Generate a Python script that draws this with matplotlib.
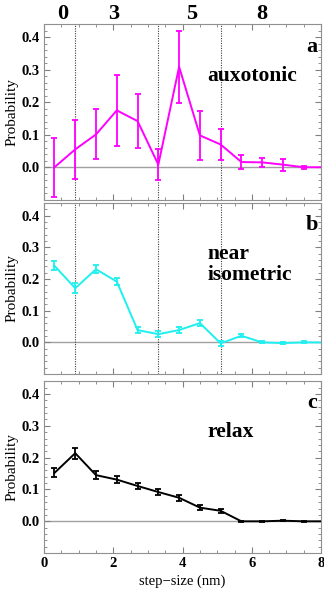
import matplotlib
matplotlib.use('Agg')
import matplotlib.pyplot as plt
from matplotlib.ticker import MultipleLocator

plt.rcParams['font.family'] = ['Liberation Serif', 'DejaVu Serif']
plt.rcParams['font.weight'] = 'bold'

steps = [0.3, 0.9, 1.5, 2.1, 2.7, 3.3, 3.9, 4.5, 5.1, 5.7, 6.3, 6.9, 7.5, 8.1]

auxo = [0.0, 0.055, 0.101, 0.175, 0.142, 0.008, 0.309, 0.098, 0.070, 0.016, 0.015, 0.008, 0.0, 0.0]
auxo_err = [0.09, 0.09, 0.077, 0.11, 0.084, 0.048, 0.11, 0.076, 0.048, 0.022, 0.013, 0.018, 0.004, 0.0]

iso = [0.242, 0.171, 0.231, 0.192, 0.039, 0.026, 0.039, 0.061, -0.003, 0.021, 0.0, -0.002, 0.0, 0.0]
iso_err = [0.015, 0.015, 0.012, 0.012, 0.01, 0.01, 0.01, 0.01, 0.008, 0.005, 0.003, 0.003, 0.003, 0.0]

relax = [0.152, 0.214, 0.145, 0.131, 0.111, 0.092, 0.074, 0.043, 0.033, 0.0, 0.0, 0.002, 0.0, 0.0]
relax_err = [0.014, 0.017, 0.012, 0.012, 0.01, 0.009, 0.009, 0.007, 0.007, 0.002, 0.002, 0.002, 0.002, 0.0]

boundaries = [0.9, 3.3, 5.1]
top_labels = ['0', '3', '5', '8']
top_pos = [0.55, 2.0, 4.25, 6.3]

panels = [
    (auxo, auxo_err, '#ff00ff', 'a', 'auxotonic', [0.662, 0.959]),
    (iso, iso_err, '#1ef0f0', 'b', 'near\nisometric', [0.367, 0.6565]),
    (relax, relax_err, 'black', 'c', 'relax', [0.064, 0.355]),
]

fig = plt.figure(figsize=(3.24, 5.91), dpi=100)
axes = []
for i, (vals, errs, col, letter, name, (b, t)) in enumerate(panels):
    ax = fig.add_axes([0.136, b, 0.855, t - b])
    ax.axhline(0, color='#a0a0a0', lw=1.0, zorder=1)
    ax.errorbar(steps, vals, yerr=errs, color=col, lw=1.4, elinewidth=1.3,
                capsize=2, capthick=1.3, zorder=3, clip_on=True)
    ax.set_xlim(0, 8)
    ax.set_ylim(-0.1, 0.44)
    ax.set_yticks([0.0, 0.1, 0.2, 0.3, 0.4])
    ax.set_yticklabels(['0.0', '0.1', '0.2', '0.3', '0.4'])
    ax.xaxis.set_major_locator(MultipleLocator(2))
    ax.xaxis.set_minor_locator(MultipleLocator(0.5))
    ax.yaxis.set_minor_locator(MultipleLocator(0.02))
    ax.tick_params(direction='in', which='both', top=True, right=True,
                   labelsize=10.5, color='#808080', pad=3)
    ax.tick_params(which='major', length=4)
    ax.tick_params(which='minor', length=2)
    for s in ax.spines.values():
        s.set_color('#909090')
        s.set_linewidth(0.8)
    ax.set_ylabel('Probability', fontsize=11, labelpad=2)
    ax.text(7.9, 0.37, letter, ha='right', va='center', fontsize=16)
    if i == 1:
        ax.text(4.72, 0.245, name, ha='left', va='center', fontsize=15.5,
                linespacing=1.05)
    else:
        ax.text(4.72, 0.28, name, ha='left', va='center', fontsize=15.5)
    if i < 2:
        for xb in boundaries:
            ax.axvline(xb, color='#404040', lw=0.8, ls=(0, (1, 1.2)), zorder=2)
        ax.tick_params(labelbottom=False)
    else:
        ax.set_xticks([0, 2, 4, 6, 8])
        ax.set_xlabel('step\u2212size (nm)', fontsize=10.5, labelpad=3)
    axes.append(ax)

for lab, xp in zip(top_labels, top_pos):
    axes[0].text(xp, 1.0, lab, transform=axes[0].get_xaxis_transform(),
                 ha='center', va='bottom', fontsize=16)

fig.savefig('out.png', dpi=100)
